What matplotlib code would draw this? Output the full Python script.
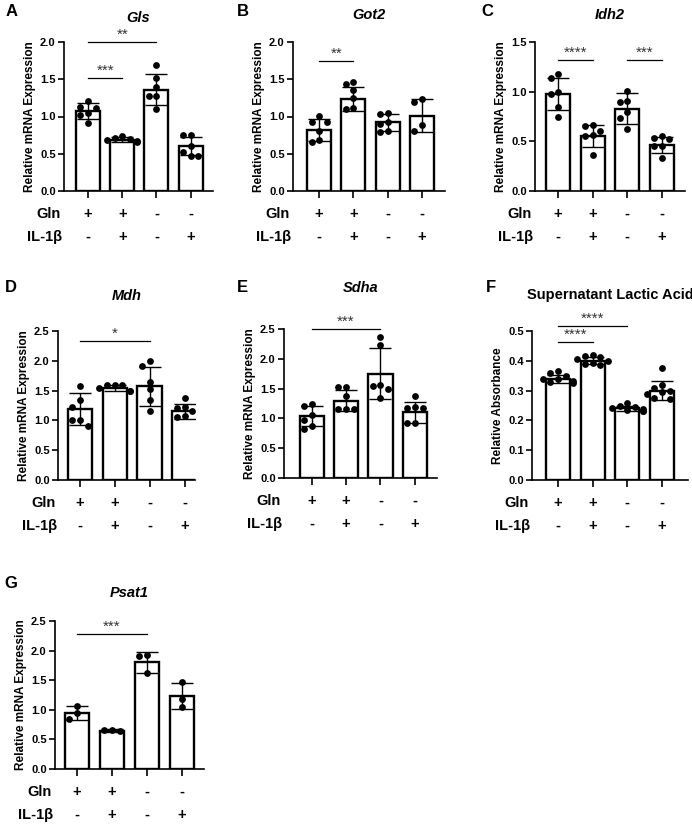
import matplotlib
matplotlib.use("Agg")
import matplotlib.pyplot as plt
import matplotlib.transforms as mtransforms
import numpy as np

plt.rcParams['font.family'] = ['Liberation Sans', 'DejaVu Sans']
plt.rcParams['font.weight'] = 'bold'

# ---- data ----
gln = ['+', '+', '-', '-']
il1b = ['-', '+', '-', '+']

gls_mean = [1.07, 0.69, 1.36, 0.60]
gls_sd = [0.11, 0.03, 0.21, 0.12]
gls_pts = [[1.21, 1.13, 1.12, 1.05, 1.02, 0.91],
           [0.74, 0.71, 0.70, 0.68, 0.67, 0.66],
           [1.69, 1.52, 1.39, 1.27, 1.27, 1.10],
           [0.75, 0.75, 0.60, 0.53, 0.47, 0.47]]

got2_mean = [0.82, 1.23, 0.92, 1.01]
got2_sd = [0.15, 0.16, 0.12, 0.22]
got2_pts = [[1.01, 0.93, 0.92, 0.80, 0.69, 0.66],
            [1.46, 1.43, 1.35, 1.25, 1.11, 1.10],
            [1.05, 1.04, 0.93, 0.90, 0.80, 0.79],
            [1.24, 1.19, 0.89, 0.80]]

idh2_mean = [0.98, 0.55, 0.83, 0.46]
idh2_sd = [0.16, 0.11, 0.16, 0.08]
idh2_pts = [[1.18, 1.14, 1.00, 0.98, 0.85, 0.74],
            [0.66, 0.65, 0.60, 0.56, 0.55, 0.36],
            [1.01, 0.91, 0.90, 0.80, 0.73, 0.62],
            [0.55, 0.53, 0.52, 0.45, 0.45, 0.33]]

mdh_mean = [1.19, 1.54, 1.57, 1.15]
mdh_sd = [0.27, 0.05, 0.33, 0.13]
mdh_pts = [[1.58, 1.35, 1.23, 1.00, 1.00, 0.90],
           [1.60, 1.60, 1.59, 1.54, 1.50, 1.50],
           [2.00, 1.92, 1.65, 1.52, 1.35, 1.16],
           [1.37, 1.23, 1.20, 1.15, 1.08, 1.05]]

sdha_mean = [1.04, 1.30, 1.75, 1.10]
sdha_sd = [0.17, 0.18, 0.43, 0.18]
sdha_pts = [[1.24, 1.20, 1.05, 0.98, 0.88, 0.83],
            [1.52, 1.52, 1.37, 1.16, 1.16, 1.16],
            [2.37, 2.23, 1.56, 1.55, 1.50, 1.35],
            [1.37, 1.19, 1.18, 1.17, 0.92, 0.92]]

lac_mean = [0.338, 0.400, 0.240, 0.300]
lac_sd = [0.013, 0.012, 0.009, 0.033]
lac_pts = [[0.365, 0.358, 0.350, 0.340, 0.338, 0.333, 0.328, 0.325],
           [0.420, 0.415, 0.412, 0.405, 0.400, 0.392, 0.388, 0.385],
           [0.260, 0.250, 0.245, 0.240, 0.238, 0.235, 0.232, 0.230],
           [0.375, 0.320, 0.310, 0.300, 0.295, 0.288, 0.275, 0.272]]

psat1_mean = [0.94, 0.65, 1.80, 1.23]
psat1_sd = [0.12, 0.02, 0.17, 0.22]
psat1_pts = [[1.07, 0.94, 0.84],
             [0.66, 0.66, 0.64],
             [1.92, 1.91, 1.63],
             [1.47, 1.18, 1.04]]

# significance: (bar i, bar j, line height, label)
gls_sig = [(0, 1, 1.52, '***'), (0, 2, 2.0, '**')]
got2_sig = [(0, 1, 1.75, '**')]
idh2_sig = [(0, 1, 1.32, '****'), (2, 3, 1.32, '***')]
mdh_sig = [(0, 2, 2.34, '*')]
sdha_sig = [(0, 2, 2.5, '***')]
lac_sig = [(0, 1, 0.464, '****'), (0, 2, 0.517, '****')]
psat1_sig = [(0, 2, 2.28, '***')]

mrna = 'Relative mRNA Expression'
panels = [
    ('A', 'Gls', True, mrna, gls_mean, gls_sd, gls_pts, gls_sig, 2.0, 0.5),
    ('B', 'Got2', True, mrna, got2_mean, got2_sd, got2_pts, got2_sig, 2.0, 0.5),
    ('C', 'Idh2', True, mrna, idh2_mean, idh2_sd, idh2_pts, idh2_sig, 1.5, 0.5),
    ('D', 'Mdh', True, mrna, mdh_mean, mdh_sd, mdh_pts, mdh_sig, 2.5, 0.5),
    ('E', 'Sdha', True, mrna, sdha_mean, sdha_sd, sdha_pts, sdha_sig, 2.5, 0.5),
    ('F', 'Supernatant Lactic Acid', False, 'Relative Absorbance',
     lac_mean, lac_sd, lac_pts, lac_sig, 0.5, 0.1),
    ('G', 'Psat1', True, mrna, psat1_mean, psat1_sd, psat1_pts, psat1_sig, 2.5, 0.5),
]

# ---- layout (pixels) ----
W, H = 692, 824
rects = {'A': (64, 42, 213, 191), 'B': (293, 42, 445, 191), 'C': (535, 42, 685, 191),
         'D': (58, 331, 195, 480), 'E': (284, 329, 437, 478), 'F': (532, 331, 688, 480),
         'G': (55, 621, 204, 769)}
xlims = {'A': (-0.7, 3.65), 'B': (-0.76, 3.67), 'C': (-0.67, 3.67), 'D': (-0.63, 3.3),
         'E': (-0.8, 3.64), 'F': (-0.75, 3.75), 'G': (-0.63, 3.63)}
letter_pos = {'A': (12, 11), 'B': (243, 11), 'C': (487, 11), 'D': (11, 288),
              'E': (242, 288), 'F': (491, 288), 'G': (11, 583)}
title_y = {'A': 18, 'B': 15, 'C': 15, 'D': 296, 'E': 288, 'F': 295, 'G': 593}


def swarm(vals, ymax, step=0.22, gap=0.05):
    # push dots sideways when they would overlap a dot already placed
    placed, offs = [], []
    for v in vals:
        for k in [0, -1, 1, -2, 2]:
            dx = k * step
            if all(abs(v - pv) > gap * ymax or abs(dx - pdx) > step * 0.9 for pv, pdx in placed):
                break
        placed.append((v, dx))
        offs.append(dx)
    return offs


fig = plt.figure(figsize=(W / 100, H / 100), dpi=100)

for letter, title, italic, ylab, means, sds, pts, sigs, ymax, ystep in panels:
    l, t, r, b = rects[letter]
    ax = fig.add_axes([l / W, 1 - b / H, (r - l) / W, (b - t) / H])
    x = np.arange(len(means))
    ax.bar(x, means, width=0.7, color='white', edgecolor='black', linewidth=1.7, zorder=1)
    ax.errorbar(x, means, yerr=sds, fmt='none', ecolor='black', elinewidth=1.0,
                capsize=8, capthick=1.0, zorder=3)
    for i, p in enumerate(pts):
        offs = swarm(p, ymax)
        ax.scatter(i + np.array(offs), p, s=24, color='black', zorder=4, linewidths=0)

    for i, j, yy, lab in sigs:
        ax.plot([i, j], [yy, yy], color='black', lw=0.9, clip_on=False)
        ax.text((i + j) / 2, yy, lab, ha='center', va='bottom', fontsize=11,
                fontweight='normal', color='#333333')

    ax.set_xlim(*xlims[letter])
    ax.set_ylim(0, ymax)
    ax.set_yticks(np.arange(0, ymax + ystep / 2, ystep))
    ax.yaxis.set_major_formatter(plt.FormatStrFormatter('%.1f'))
    ax.set_xticks(x)
    ax.set_xticklabels([])
    ax.tick_params(axis='y', length=4, width=1.2, labelsize=8, pad=2)
    ax.tick_params(axis='x', length=5, width=1.2)
    for s in ['top', 'right']:
        ax.spines[s].set_visible(False)
    for s in ['left', 'bottom']:
        ax.spines[s].set_linewidth(1.2)
    ax.set_ylabel(ylab, fontsize=8.5, fontweight='bold', labelpad=3)

    # Gln / IL-1b condition rows
    tr = mtransforms.blended_transform_factory(ax.transData, ax.transAxes)
    row1, row2 = -23 / (b - t), -46 / (b - t)
    ax.text(-0.02, row1, 'Gln', transform=ax.transAxes, ha='right', va='center', fontsize=10.5)
    ax.text(-0.01, row2, 'IL-1β', transform=ax.transAxes, ha='right', va='center', fontsize=10.5)
    for i in x:
        ax.text(i, row1, gln[i], transform=tr, ha='center', va='center', fontsize=10.5)
        ax.text(i, row2, il1b[i], transform=tr, ha='center', va='center', fontsize=10.5)

    fig.text((l + r) / 2 / W, 1 - title_y[letter] / H, title, ha='center', va='center',
             fontsize=10.5, fontweight='bold', style='italic' if italic else 'normal')
    lx, ly = letter_pos[letter]
    fig.text(lx / W, 1 - ly / H, letter, ha='center', va='center', fontsize=12, fontweight='bold')

fig.savefig('out.png', dpi=100)
